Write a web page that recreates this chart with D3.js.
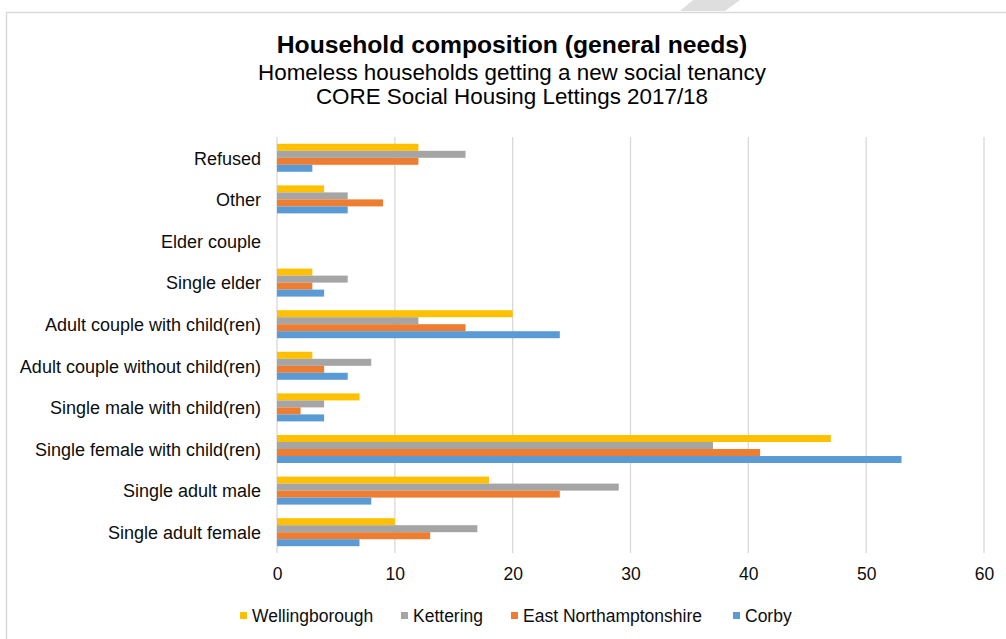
<!DOCTYPE html>
<html>
<head>
<meta charset="utf-8">
<script src="https://cdn.jsdelivr.net/npm/d3@7"></script>
<style>
  html, body { margin: 0; padding: 0; background: #fff; }
  svg { display: block; font-family: "Liberation Sans", Arial, sans-serif; }
</style>
</head>
<body>
<svg id="chart" width="1006" height="639"></svg>
<script>
// Household types, top to bottom as drawn
const categories = [
  "Refused",
  "Other",
  "Elder couple",
  "Single elder",
  "Adult couple with child(ren)",
  "Adult couple without child(ren)",
  "Single male with child(ren)",
  "Single female with child(ren)",
  "Single adult male",
  "Single adult female"
];

const seriesNames = ["Wellingborough", "Kettering", "East Northamptonshire", "Corby"];

// Lettings per household type, same order as categories
const wellingborough = [12, 4, 0, 3, 20, 3, 7, 47, 18, 10];
const kettering      = [16, 6, 0, 6, 12, 8, 4, 37, 29, 17];
const eastNorthants  = [12, 9, 0, 3, 16, 4, 2, 41, 24, 13];
const corby          = [3, 6, 0, 4, 24, 6, 4, 53, 8, 7];

const seriesValues = [wellingborough, kettering, eastNorthants, corby];
const seriesColors = ["#FFC000", "#A5A5A5", "#ED7D31", "#5B9BD5"];

const xTicks = [0, 10, 20, 30, 40, 50, 60];

const svg = d3.select("#chart");

// Chart frame
svg.append("path")
  .attr("d", "M6.5,1000 L6.5,12.5 L1010,12.5")
  .attr("fill", "none")
  .attr("stroke", "#d9d9d9")
  .attr("stroke-width", 1.5);

// Decorative stripe above the frame
svg.append("polygon")
  .attr("points", "693,0 740,0 725,11 680,11")
  .attr("fill", "#dedede");

// Titles
const titles = [
  { text: "Household composition (general needs)", y: 53, size: 24.7, weight: "bold" },
  { text: "Homeless households getting a new social tenancy", y: 80, size: 22.4, weight: "normal" },
  { text: "CORE Social Housing Lettings 2017/18", y: 104, size: 22.4, weight: "normal" }
];
svg.selectAll("text.title")
  .data(titles)
  .join("text")
  .attr("class", "title")
  .attr("x", 512)
  .attr("y", d => d.y)
  .attr("text-anchor", "middle")
  .attr("font-size", d => d.size)
  .attr("font-weight", d => d.weight)
  .attr("fill", "#000")
  .text(d => d.text);

// Scales
const plot = { left: 277, right: 984, top: 137, bottom: 553 };

const x = d3.scaleLinear().domain([0, 60]).range([plot.left, plot.right]);

const y = d3.scaleBand()
  .domain(categories)
  .range([plot.top, plot.bottom])
  .paddingInner(0.327)
  .paddingOuter(0.1635);

const ySub = d3.scaleBand()
  .domain(seriesNames)
  .range([0, y.bandwidth()])
  .padding(0);

// Gridlines
svg.append("g")
  .selectAll("line")
  .data(xTicks)
  .join("line")
  .attr("x1", d => x(d))
  .attr("x2", d => x(d))
  .attr("y1", plot.top)
  .attr("y2", plot.bottom)
  .attr("stroke", "#d9d9d9")
  .attr("stroke-width", 1.3);

// Bars
const groups = svg.append("g")
  .selectAll("g")
  .data(categories)
  .join("g")
  .attr("transform", d => `translate(0,${y(d)})`);

groups.selectAll("rect")
  .data((d, i) => seriesNames.map((s, j) => ({ series: s, value: seriesValues[j][i], color: seriesColors[j] })))
  .join("rect")
  .attr("x", x(0))
  .attr("y", d => ySub(d.series))
  .attr("width", d => x(d.value) - x(0))
  .attr("height", ySub.bandwidth())
  .attr("fill", d => d.color);

// Category axis labels
const yAxis = d3.axisLeft(y).tickSize(0).tickPadding(16);
svg.append("g")
  .attr("transform", `translate(${plot.left},1)`)
  .call(yAxis)
  .call(g => g.select(".domain").remove())
  .call(g => g.selectAll("text")
    .attr("font-size", 18)
    .attr("font-family", "Liberation Sans, Arial, sans-serif")
    .attr("fill", "#0d0d0d"));

// Value axis labels
const xAxis = d3.axisBottom(x).tickValues(xTicks).tickSize(0).tickPadding(15);
svg.append("g")
  .attr("transform", `translate(0,${plot.bottom})`)
  .call(xAxis)
  .call(g => g.select(".domain").remove())
  .call(g => g.selectAll("text")
    .attr("font-size", 17.5)
    .attr("font-family", "Liberation Sans, Arial, sans-serif")
    .attr("fill", "#0d0d0d"));

// Legend
const legendX = [240, 401, 511, 733];
const legend = svg.append("g")
  .selectAll("g")
  .data(seriesNames)
  .join("g")
  .attr("transform", (d, i) => `translate(${legendX[i]},616)`);

legend.append("rect")
  .attr("x", 0)
  .attr("y", -4)
  .attr("width", 7)
  .attr("height", 7)
  .attr("fill", (d, i) => seriesColors[i]);

legend.append("text")
  .attr("x", 12)
  .attr("y", 6)
  .attr("font-size", 17.5)
  .attr("fill", "#0d0d0d")
  .text(d => d);
</script>
</body>
</html>
